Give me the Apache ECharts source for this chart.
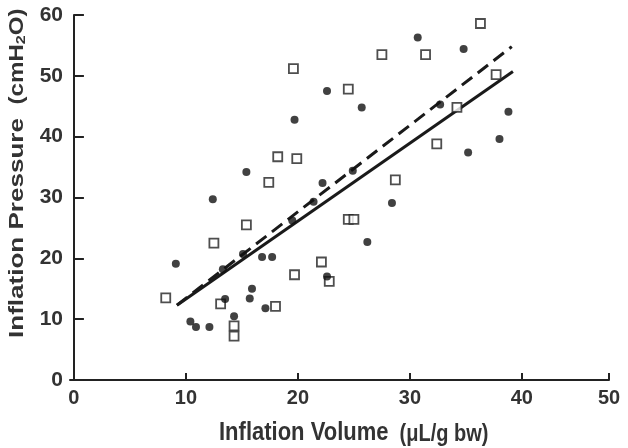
<!DOCTYPE html>
<html><head><meta charset="utf-8">
<script src="https://cdn.jsdelivr.net/npm/echarts@6/dist/echarts.min.js"></script>
<style>html,body{margin:0;padding:0;background:#fff}#c{width:628px;height:448px}</style>
</head><body><div id="c"></div>
<script>
// Group 1 (filled circles): [volume, pressure]
var circlePts = [
  [22.6,47.5],[19.7,42.8],[15.4,34.2],[22.2,32.4],[12.4,29.7],[30.7,56.3],[34.8,54.4],
  [25.7,44.8],[32.7,45.3],[38.8,44.1],[38.0,39.6],[35.2,37.4],[24.9,34.4],[21.4,29.3],
  [19.5,26.2],[9.1,19.1],[16.8,20.2],[17.7,20.2],[22.6,17.0],[13.5,13.3],[15.9,15.0],
  [15.7,13.4],[17.1,11.8],[14.3,10.5],[10.4,9.6],[10.9,8.7],[12.1,8.7],[28.4,29.1],
  [26.2,22.7],[15.1,20.7],[13.3,18.2]
];
// Group 2 (open squares)
var squarePts = [
  [19.6,51.2],[18.2,36.7],[19.9,36.4],[17.4,32.5],[36.3,58.6],[27.5,53.5],[31.4,53.5],
  [37.7,50.2],[24.5,47.8],[34.2,44.8],[32.4,38.8],[28.7,32.9],[15.4,25.5],[12.5,22.5],
  [19.7,17.3],[22.1,19.4],[22.8,16.2],[8.2,13.5],[13.1,12.5],[18.0,12.1],[14.3,8.9],
  [14.3,7.2],[24.5,26.4],[25.0,26.4]
];
// Regression lines (endpoints)
var solidLine = [[9.2,12.3],[39.2,50.7]];
var dashedLine = [[9.2,12.3],[39.1,54.8]];
// Axis ticks as drawn in the reference (last interval is compressed in the original figure)
var xTickValues = [0,10,20,30,40,47.78];
var xTickLabels = ['0','10','20','30','40','50'];
var yTickValues = [0,10,20,30,40,50,60];

var txt = '#333';
var F = 'Liberation Sans';
var ch = echarts.init(document.getElementById('c'));
ch.setOption({
  animation:false,
  backgroundColor:'#fff',
  grid:{left:70,right:19,top:15,bottom:68},
  xAxis:{type:'value',min:-0.35,max:47.78,
    axisLine:{lineStyle:{color:'#222',width:2}},
    axisTick:{inside:true,length:7,lineStyle:{color:'#222',width:2},customValues:xTickValues},
    axisLabel:{customValues:xTickValues,margin:8,color:txt,fontFamily:F,fontWeight:'bold',fontSize:20,
      formatter:function(v){var i=xTickValues.indexOf(v);return i>=0?xTickLabels[i]:'';}},
    splitLine:{show:false}},
  yAxis:{type:'value',min:0,max:60,
    axisLine:{show:true,lineStyle:{color:'#222',width:2}},
    axisTick:{show:true,inside:true,length:10,lineStyle:{color:'#222',width:2},customValues:yTickValues},
    axisLabel:{customValues:yTickValues,margin:7,color:txt,fontFamily:F,fontWeight:'bold',fontSize:21,padding:[0,0,7,0]},
    splitLine:{show:false}},
  graphic:[
    {type:'text',x:219,y:416,scaleY:1.15,style:{
      text:'{a|Inflation Volume}{b|  (μL/g bw)}',
      rich:{a:{fontFamily:F,fontWeight:'bold',fontSize:22,fill:txt,lineHeight:26,verticalAlign:'bottom'},
            b:{fontFamily:F,fontWeight:'bold',fontSize:20,fill:txt,lineHeight:25,verticalAlign:'bottom'}}}},
    {type:'text',x:2,y:338,rotation:Math.PI/2,scaleX:1.24,style:{
      text:'{a|Inflation Pressure}{b|  (cmH}{s|2}{b|O)}',
      rich:{a:{fontFamily:F,fontWeight:'bold',fontSize:21,fill:txt,lineHeight:26,verticalAlign:'bottom'},
            b:{fontFamily:F,fontWeight:'bold',fontSize:19.5,fill:txt,lineHeight:25,verticalAlign:'bottom'},
            s:{fontFamily:F,fontWeight:'bold',fontSize:13,fill:txt,lineHeight:15,verticalAlign:'bottom'}}}}
  ],
  series:[
    {type:'line',data:dashedLine,symbol:'none',lineStyle:{color:'#1a1a1a',width:3,type:[13,7]},z:2},
    {type:'line',data:solidLine,symbol:'none',lineStyle:{color:'#1a1a1a',width:3},z:3},
    {type:'scatter',data:squarePts,symbol:'rect',symbolSize:9,itemStyle:{color:'#fff',borderColor:'#222',borderWidth:1.8},z:4},
    {type:'scatter',data:circlePts,symbol:'circle',symbolSize:8,itemStyle:{color:'#111'},z:5}
  ]
});
</script></body></html>
